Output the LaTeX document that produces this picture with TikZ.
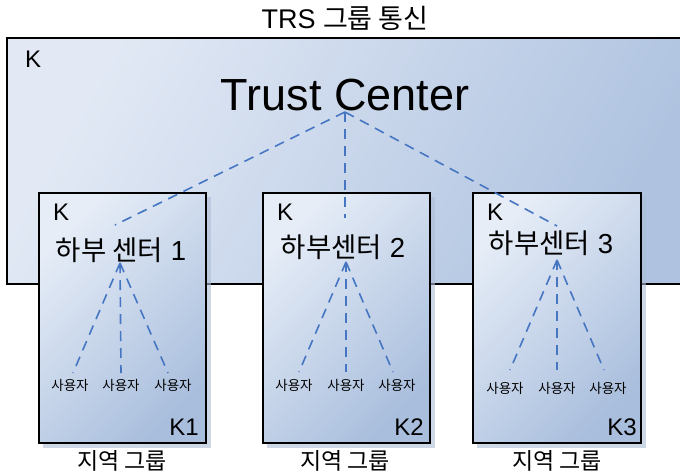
\documentclass[tikz,border=0pt]{standalone}
\usepackage{fontspec}
\setmainfont{Liberation Sans}
\newfontfamily\kr{Noto Sans CJK KR}
\definecolor{bigA}{HTML}{E2E9F5}
\definecolor{bigB}{HTML}{AFC3E0}
\definecolor{subA}{HTML}{E6EDF7}
\definecolor{subB}{HTML}{A9BEDD}
\definecolor{shadowc}{HTML}{AEBDD6}
\definecolor{dashc}{HTML}{4676C2}
\begin{document}
\begin{tikzpicture}[x=1pt,y=-1pt,
  bigbox/.style={draw=black,line width=1.4pt,top color=bigA,bottom color=bigB,shading angle=60},
  subbox/.style={draw=black,line width=1.4pt,top color=subA,bottom color=subB,shading angle=45},
  shadowbox/.style={fill=shadowc,opacity=0.6},
  dashline/.style={draw=dashc,line width=1.6pt,dash pattern=on 10pt off 7pt},
  txt/.style={inner sep=0pt,text=black},
  big/.style={txt,font=\fontsize{45}{50}\selectfont},
  mid/.style={txt,font=\fontsize{27.5}{31}\selectfont},
  kl/.style={txt,font=\fontsize{24}{28}\selectfont},
  ttl/.style={txt,font=\fontsize{27}{30}\selectfont},
  grp/.style={txt,font=\kr\fontsize{23}{26}\selectfont},
  usr/.style={txt,font=\kr\fontsize{13.5}{16}\selectfont}]
\useasboundingbox (0,0) rectangle (680,475);
\begin{scope}
\clip (0,0) rectangle (680,475);
% main area
\path[bigbox] (7,38) rectangle (690,284);
% sub boxes with shadows
\path[shadowbox] (43,197) rectangle (211,448);
\path[shadowbox] (267,197) rectangle (435,448);
\path[shadowbox] (477,197) rectangle (646,448);
\path[subbox] (39,193) rectangle (206,443);
\path[subbox] (263,193) rectangle (430,443);
\path[subbox] (473,193) rectangle (641,443);
\end{scope}

% texts
\node[ttl,anchor=base] (title) at (345,28) {TRS {\kr 그룹 통신}};
\node[big,anchor=base] (trust) at (345,110) {Trust Center};
\node[kl,anchor=base west] (kbig) at (25,67) {K};

\node[kl,anchor=base west] (k1) at (53,220) {K};
\node[kl,anchor=base west] (k2) at (277,220) {K};
\node[kl,anchor=base west] (k3) at (487,220) {K};
\node[kl,anchor=base east] (kk1) at (199,435) {K1};
\node[kl,anchor=base east] (kk2) at (424,435) {K2};
\node[kl,anchor=base east] (kk3) at (637,435) {K3};

\node[mid,anchor=base] (sc1) at (121,260) {{\kr 하부 센터} 1};
\node[mid,anchor=base] (sc2) at (343,257) {{\kr 하부센터} 2};
\node[mid,anchor=base] (sc3) at (551,253) {{\kr 하부센터} 3};

\node[usr,anchor=base] (u11) at (70,390) {사용자};
\node[usr,anchor=base] (u12) at (121,390) {사용자};
\node[usr,anchor=base] (u13) at (173,390) {사용자};
\node[usr,anchor=base] (u21) at (294,390) {사용자};
\node[usr,anchor=base] (u22) at (346,390) {사용자};
\node[usr,anchor=base] (u23) at (397,390) {사용자};
\node[usr,anchor=base] (u31) at (505,393) {사용자};
\node[usr,anchor=base] (u32) at (557,393) {사용자};
\node[usr,anchor=base] (u33) at (608,393) {사용자};

\node[grp] (g1) at (122,461) {지역 그룹};
\node[grp] (g2) at (345,461) {지역 그룹};
\node[grp] (g3) at (557,461) {지역 그룹};

% connection points
\coordinate (tc) at (345,112);
\coordinate (s1) at (115,225);
\coordinate (s2) at (345,218);
\coordinate (s3) at (557,226);
\coordinate (a1) at (120,263);
\coordinate (a2) at (346,262);
\coordinate (a3) at (557,260);
\coordinate (e11) at (73,373);
\coordinate (e12) at (121,373);
\coordinate (e13) at (168,373);
\coordinate (e21) at (299,372);
\coordinate (e22) at (346,372);
\coordinate (e23) at (393,372);
\coordinate (e31) at (510,370);
\coordinate (e32) at (557,370);
\coordinate (e33) at (604,370);

\draw[dashline] (tc) -- (s1);
\draw[dashline] (tc) -- (s2);
\draw[dashline] (tc) -- (s3);
\foreach \b in {1,2,3}{
  \foreach \u in {1,2,3}{
    \draw[dashline] (a\b) -- (e\b\u);
  }
}
\end{tikzpicture}
\end{document}
